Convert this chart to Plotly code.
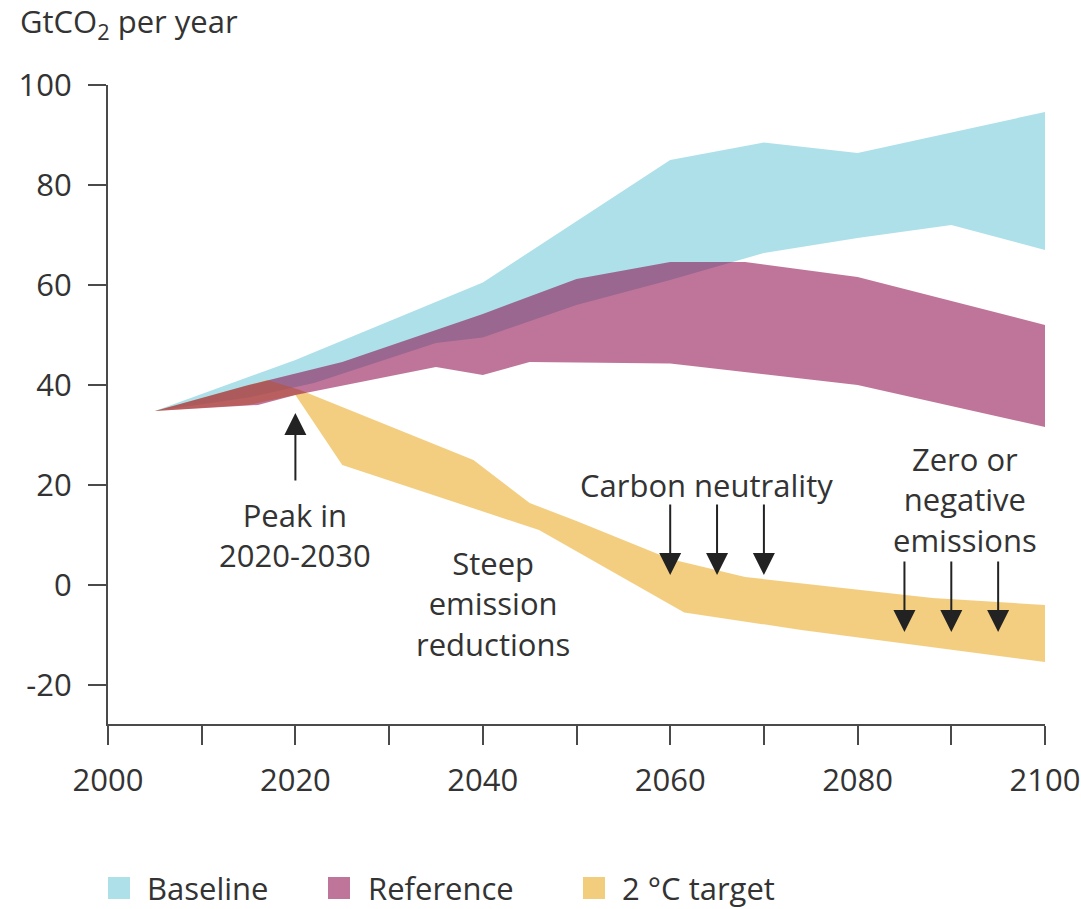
import plotly.graph_objects as go

# Emission pathways (GtCO2 per year): upper and lower envelopes of each band
baseline_upper_years = [2005, 2020, 2040, 2060, 2070, 2080, 2100]
baseline_upper = [34.8, 45.0, 60.5, 85.0, 88.5, 86.4, 94.6]
baseline_lower_years = [2005, 2015, 2022, 2035, 2040, 2050, 2060, 2070, 2080, 2090, 2100]
baseline_lower = [34.8, 37.5, 40.4, 48.4, 49.5, 56.0, 61.0, 66.4, 69.4, 72.0, 67.0]

reference_upper_years = [2005, 2015, 2025, 2040, 2050, 2060, 2068, 2080, 2100]
reference_upper = [34.8, 40.0, 44.6, 54.2, 61.2, 64.6, 64.6, 61.6, 52.0]
reference_lower_years = [2005, 2016, 2020, 2035, 2040, 2045, 2060, 2080, 2100]
reference_lower = [34.8, 36.0, 38.0, 43.6, 42.0, 44.6, 44.3, 40.0, 31.6]

target_upper_years = [2005, 2017, 2020.5, 2039, 2045, 2050, 2060, 2068, 2088, 2100]
target_upper = [34.8, 41.0, 39.0, 25.0, 16.4, 12.8, 5.2, 1.6, -2.6, -4.0]
target_lower_years = [2005, 2015, 2020, 2025, 2046, 2061.5, 2074, 2100]
target_lower = [34.8, 36.0, 38.0, 24.0, 11.0, -5.5, -9.0, -15.4]

# Arrow markers: (year, tail value, tip value)
peak_arrow = (2020, 20.6, 34.4)
neutrality_years = [2060, 2065, 2070]
neutrality_tail, neutrality_tip = 16.4, 2.0
negative_years = [2085, 2090, 2095]
negative_tail, negative_tip = 5.0, -9.4

x_ticks = [2000, 2020, 2040, 2060, 2080, 2100]
y_ticks = [-20, 0, 20, 40, 60, 80, 100]
y_tick_text = ["-20", "0", "20", "40", "60", "80", "100"]

# name, upper x, upper y, lower x, lower y, band fill, legend swatch
# Drawing order cyan -> yellow -> purple gives darker overlaps
series = [
    ("Baseline", baseline_upper_years, baseline_upper, baseline_lower_years, baseline_lower,
     "rgba(174,224,234,1)", "#aee0ea"),
    ("2 °C target", target_upper_years, target_upper, target_lower_years, target_lower,
     "rgba(236,180,60,0.65)", "#f2cd7d"),
    ("Reference", reference_upper_years, reference_upper, reference_lower_years, reference_lower,
     "rgba(139,4,70,0.55)", "#bf7599"),
]
legend_order = ["Baseline", "Reference", "2 °C target"]

TEXT = "#333333"
AXIS = "#4a4a4a"
FONT = "Open Sans"
FS = 31

fig = go.Figure()
for name, ux, uy, lx, ly, fill, _ in series:
    fig.add_trace(go.Scatter(
        x=ux + lx[::-1], y=uy + ly[::-1],
        mode="lines", fill="toself", fillcolor=fill,
        line=dict(width=0), name=name, showlegend=False, hoverinfo="skip",
    ))

annotations = []

def arrow(year, tail, tip):
    annotations.append(dict(
        x=year, y=tip, ax=year, ay=tail, xref="x", yref="y", axref="x", ayref="y",
        text="", showarrow=True, arrowhead=2, arrowsize=2.2, arrowwidth=2,
        arrowcolor="#222222", standoff=0,
    ))

arrow(*peak_arrow)
for yr in neutrality_years:
    arrow(yr, neutrality_tail, neutrality_tip)
for yr in negative_years:
    arrow(yr, negative_tail, negative_tip)

labels = [
    (2020, 10.0, "Peak in<br>2020-2030"),
    (2041.1, -3.6, "Steep<br>emission<br>reductions"),
    (2063.9, 20.0, "Carbon neutrality"),
    (2091.5, 17.2, "Zero or<br>negative<br>emissions"),
]
for x, y, t in labels:
    annotations.append(dict(
        x=x, y=y, xref="x", yref="y", text=t, showarrow=False,
        font=dict(family=FONT, size=FS, color=TEXT), align="center",
        xanchor="center", yanchor="middle",
    ))

# Plot area in pixels, used to place paper-anchored items
L, R, T, B = 108, 1045, 85, 724
W, H = R - L, B - T

def px_x(p):
    return (p - L) / W

def px_y(p):
    return (B - p) / H

# Unit label above the y axis
annotations.append(dict(
    x=px_x(18), y=px_y(23), xref="paper", yref="paper", text="GtCO<sub>2</sub> per year",
    showarrow=False, font=dict(family=FONT, size=FS, color=TEXT),
    xanchor="left", yanchor="middle",
))

swatch = {s[0]: s[-1] for s in series}
shapes = []
legend_x = [(108, 145), (328, 366), (583, 620)]
for (sx, tx), name in zip(legend_x, legend_order):
    shapes.append(dict(
        type="rect", xref="paper", yref="paper",
        x0=px_x(sx), x1=px_x(sx + 22), y0=px_y(899), y1=px_y(877),
        fillcolor=swatch[name], line=dict(width=0),
    ))
    annotations.append(dict(
        x=px_x(tx), y=px_y(888), xref="paper", yref="paper", text=name,
        showarrow=False, font=dict(family=FONT, size=FS, color=TEXT),
        xanchor="left", yanchor="middle",
    ))

fig.update_layout(
    width=1081, height=909,
    margin=dict(l=L, r=1081 - R, t=T, b=909 - B),
    paper_bgcolor="white", plot_bgcolor="white",
    font=dict(family=FONT, size=FS, color=TEXT),
    annotations=annotations, shapes=shapes,
    showlegend=False,
)
fig.update_xaxes(
    range=[2000, 2100], tickvals=x_ticks, showgrid=False, zeroline=False,
    automargin=False,
    showline=True, linecolor=AXIS, linewidth=2,
    ticks="outside", ticklen=19, tickwidth=2, tickcolor=AXIS,
    ticklabelstandoff=9,
    minor=dict(dtick=10, tick0=2000, ticks="outside", ticklen=19, tickwidth=2, tickcolor=AXIS),
    tickfont=dict(family=FONT, size=FS, color=TEXT),
)
fig.update_yaxes(
    range=[-27.8, 100], tickvals=y_ticks, ticktext=y_tick_text,
    showgrid=False, zeroline=False, automargin=False,
    showline=True, linecolor=AXIS, linewidth=2,
    ticks="outside", ticklen=18, tickwidth=2, tickcolor=AXIS,
    ticklabelstandoff=10,
    tickfont=dict(family=FONT, size=FS, color=TEXT),
)

fig.write_html("out.html")
